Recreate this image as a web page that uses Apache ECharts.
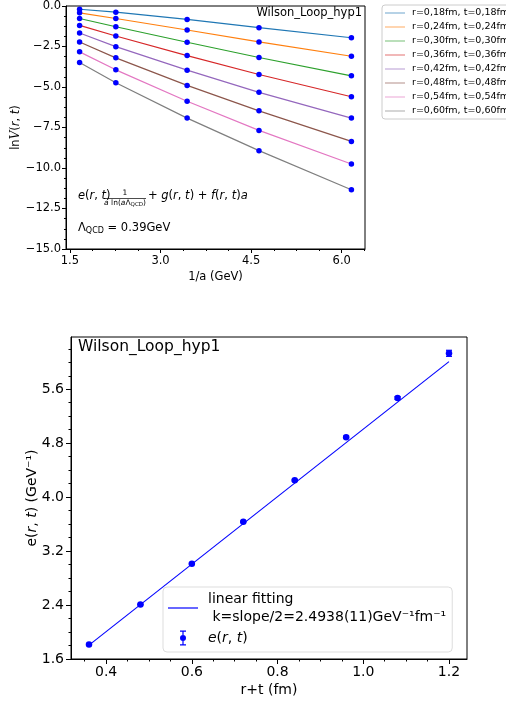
<!DOCTYPE html>
<html>
<head>
<meta charset="utf-8">
<script src="https://cdn.jsdelivr.net/npm/echarts@6/dist/echarts.min.js"></script>
<style>
html,body{margin:0;padding:0;background:#fff;}
#chart{width:506px;height:703px;}
</style>
</head>
<body>
<div id="chart"></div>
<script>
// ---------- data: top panel ----------
const invA = [1.66, 2.26, 3.44, 4.63, 6.16];
const rtNames = ['r=0,18fm, t=0,18fm','r=0,24fm, t=0,24fm','r=0,30fm, t=0,30fm','r=0,36fm, t=0,36fm',
                 'r=0,42fm, t=0,42fm','r=0,48fm, t=0,48fm','r=0,54fm, t=0,54fm','r=0,60fm, t=0,60fm'];
const lnV_018 = [-0.20, -0.38, -0.83, -1.34, -1.96];
const lnV_024 = [-0.42, -0.77, -1.48, -2.22, -3.10];
const lnV_030 = [-0.77, -1.28, -2.24, -3.18, -4.31];
const lnV_036 = [-1.20, -1.85, -3.06, -4.23, -5.60];
const lnV_042 = [-1.67, -2.51, -3.96, -5.33, -6.92];
const lnV_048 = [-2.22, -3.20, -4.90, -6.47, -8.36];
const lnV_054 = [-2.83, -3.94, -5.88, -7.68, -9.75];
const lnV_060 = [-3.49, -4.74, -6.92, -8.93, -11.34];
const topXTicks = [1.5, 3.0, 4.5, 6.0];
const topYTicks = [0, -2.5, -5, -7.5, -10, -12.5, -15];

// ---------- data: bottom panel ----------
const rPlusT = [0.36, 0.48, 0.60, 0.72, 0.84, 0.96, 1.08, 1.20];
const eVals  = [1.816, 2.408, 3.013, 3.634, 4.25, 4.89, 5.47, 6.133];
const eErr   = [0.006, 0.006, 0.008, 0.010, 0.012, 0.015, 0.020, 0.045];
const fitX   = [0.36, 1.20];
const fitY   = [1.805, 6.01];
const botXTicks = [0.4, 0.6, 0.8, 1.0, 1.2];
const botYTicks = [1.6, 2.4, 3.2, 4.0, 4.8, 5.6];

const lnV = [lnV_018, lnV_024, lnV_030, lnV_036, lnV_042, lnV_048, lnV_054, lnV_060];
const tab10 = ['#1f77b4','#ff7f0e','#2ca02c','#d62728','#9467bd','#8c564b','#e377c2','#7f7f7f'];
const FF = 'DejaVu Sans';

function minorTicks(major, ndiv, lo, hi) {
  const sorted = major.slice().sort((a, b) => a - b);
  const s = (sorted[1] - sorted[0]) / ndiv;
  const out = [];
  for (let k = -ndiv; k <= sorted.length * ndiv; k++) {
    const v = +(sorted[0] + k * s).toFixed(6);
    if (v < lo - 1e-9 || v > hi + 1e-9) continue;
    if (sorted.some(m => Math.abs(m - v) < 1e-6)) continue;
    out.push(v);
  }
  return out;
}

const T = {xmin:1.435, xmax:6.385, ymin:-15, ymax:0};
const B = {xmin:0.318, xmax:1.242, ymin:1.6, ymax:6.375};
const fmtMinus = v => v.toFixed(1).replace('-', '\u2212');

function majorAxis(o) {
  return Object.assign({
    type: 'value', scale: true,
    axisLine: {show: true, onZero: false, lineStyle: {color: '#000', width: 1}},
    splitLine: {show: false}, nameMoveOverlap: false,
    axisTick: {show: true, customValues: o.ticks, length: o.tlen, lineStyle: {color: '#000', width: 1}},
    axisLabel: {customValues: o.ticks, formatter: o.fmt, fontSize: o.fs, fontFamily: FF, color: '#000', margin: o.margin}
  }, o.extra);
}
function minorAxis(o) {
  return Object.assign({
    type: 'value', scale: true,
    axisLine: {show: false, onZero: false}, splitLine: {show: false},
    axisTick: {show: true, customValues: o.ticks, length: o.tlen, lineStyle: {color: '#000', width: 1}},
    axisLabel: {show: false}
  }, o.extra);
}

const chart = echarts.init(document.getElementById('chart'), null, {renderer: 'canvas'});

const series = [];
lnV.forEach((arr, i) => { series.push({name: rtNames[i], type: 'line', xAxisIndex: 0, yAxisIndex: 0,
  data: invA.map((x, j) => [x, arr[j]]), symbol: 'none', lineStyle: {color: tab10[i], width: 1.2}, itemStyle: {color: tab10[i]}, z: 2}); });
lnV.forEach((arr, i) => { series.push({name: 'pts' + i, type: 'scatter', xAxisIndex: 0, yAxisIndex: 0,
  data: invA.map((x, j) => [x, arr[j]]), symbol: 'circle', symbolSize: 5.5, itemStyle: {color: '#0000ff', opacity: 1}, z: 3}); });
series.push({name: 'linear fitting', type: 'line', xAxisIndex: 2, yAxisIndex: 2, data: fitX.map((x, j) => [x, fitY[j]]),
  symbol: 'none', lineStyle: {color: '#0000ff', width: 1.1}, itemStyle: {color: '#0000ff'}, z: 2});
series.push({name: 'e(r, t)', type: 'scatter', xAxisIndex: 2, yAxisIndex: 2, data: rPlusT.map((x, j) => [x, eVals[j]]),
  symbol: 'circle', symbolSize: 6.5, itemStyle: {color: '#0000ff', opacity: 1}, z: 3});
series.push({name: 'errbars', type: 'custom', xAxisIndex: 2, yAxisIndex: 2,
  data: rPlusT.map((x, j) => [x, eVals[j] - eErr[j], eVals[j] + eErr[j]]),
  renderItem: function (params, api) {
    const lo = api.coord([api.value(0), api.value(1)]), hi = api.coord([api.value(0), api.value(2)]);
    const w = 3, st = {stroke: '#0000ff', lineWidth: 1.2};
    return {type: 'group', children: [
      {type: 'line', shape: {x1: lo[0], y1: lo[1], x2: hi[0], y2: hi[1]}, style: st},
      {type: 'line', shape: {x1: lo[0]-w, y1: lo[1], x2: lo[0]+w, y2: lo[1]}, style: st},
      {type: 'line', shape: {x1: hi[0]-w, y1: hi[1], x2: hi[0]+w, y2: hi[1]}, style: st}]};
  }, z: 3});

const errIcon = 'path://M0,0H6V1.2H3.6V13.8H6V15H0V13.8H2.4V1.2H0Z M6,7.5A3,3,0,1,1,0,7.5A3,3,0,1,1,6,7.5Z';
const lineIcon20 = 'path://M0,0H20V1.3H0Z';
const lineIcon30 = 'path://M0,0H30V1.2H0Z';

const option = {
  animation: false, backgroundColor: '#fff', textStyle: {fontFamily: FF},
  title: [
    {text: 'Wilson_Loop_hyp1', right: 144, top: 7, padding: 0, textStyle: {fontSize: 11.5, fontWeight: 'normal', fontFamily: FF, color: '#000'}},
    {text: 'Wilson_Loop_hyp1', left: 78, top: 339, padding: 0, textStyle: {fontSize: 15.5, fontWeight: 'normal', fontFamily: FF, color: '#000'}}
  ],
  grid: [
    {left: 66, top: 6, width: 299, height: 243, show: true, borderColor: '#000', borderWidth: 1, backgroundColor: 'transparent', containLabel: false, outerBoundsMode: 'none'},
    {left: 71, top: 337, width: 396, height: 322, show: true, borderColor: '#000', borderWidth: 1, backgroundColor: 'transparent', containLabel: false, outerBoundsMode: 'none'}
  ],
  xAxis: [
    majorAxis({ticks: topXTicks, tlen: 4, fmt: v => v.toFixed(1), fs: 11.5, margin: 6,
      extra: {gridIndex: 0, position: 'bottom', min: T.xmin, max: T.xmax, name: '1/a (GeV)', nameLocation: 'middle', nameGap: 22,
        nameTextStyle: {fontSize: 11.5, fontFamily: FF, color: '#000'}}}),
    minorAxis({ticks: minorTicks(topXTicks, 4, T.xmin, T.xmax), tlen: 2, extra: {gridIndex: 0, position: 'bottom', min: T.xmin, max: T.xmax}}),
    majorAxis({ticks: botXTicks, tlen: 5, fmt: v => v.toFixed(1), fs: 14, margin: 6,
      extra: {gridIndex: 1, position: 'bottom', min: B.xmin, max: B.xmax, name: 'r+t (fm)', nameLocation: 'middle', nameGap: 24,
        nameTextStyle: {fontSize: 14, fontFamily: FF, color: '#000'}}}),
    minorAxis({ticks: minorTicks(botXTicks, 4, B.xmin, B.xmax), tlen: 2.5, extra: {gridIndex: 1, position: 'bottom', min: B.xmin, max: B.xmax}})
  ],
  yAxis: [
    majorAxis({ticks: topYTicks, tlen: 4, fmt: fmtMinus, fs: 11.5, margin: 5,
      extra: {gridIndex: 0, position: 'left', min: T.ymin, max: T.ymax, name: '{u|ln}{c|V}{u|(}{i|r}{u|, }{i|t}{u|)}',
        nameLocation: 'middle', nameGap: 44, nameRotate: 90,
        nameTextStyle: {fontSize: 11.5, fontFamily: FF, color: '#000', rich: {
          u: {fontSize: 11.5, fontFamily: FF, color: '#000'},
          c: {fontSize: 12, fontFamily: 'DejaVu Serif', fontStyle: 'italic', color: '#000'},
          i: {fontSize: 11.5, fontFamily: FF, fontStyle: 'italic', color: '#000'}}}}}),
    minorAxis({ticks: minorTicks(topYTicks, 4, T.ymin, T.ymax), tlen: 2, extra: {gridIndex: 0, position: 'left', min: T.ymin, max: T.ymax}}),
    majorAxis({ticks: botYTicks, tlen: 5, fmt: v => v.toFixed(1), fs: 14, margin: 7,
      extra: {gridIndex: 1, position: 'left', min: B.ymin, max: B.ymax, name: '{u|e(}{i|r}{u|, }{i|t}{u|) (GeV⁻¹)}',
        nameLocation: 'middle', nameGap: 32, nameRotate: 90,
        nameTextStyle: {fontSize: 14, fontFamily: FF, color: '#000', rich: {
          u: {fontSize: 14, fontFamily: FF, color: '#000'},
          i: {fontSize: 14, fontFamily: FF, fontStyle: 'italic', color: '#000'}}}}}),
    minorAxis({ticks: minorTicks(botYTicks, 4, B.ymin, B.ymax), tlen: 2.5, extra: {gridIndex: 1, position: 'left', min: B.ymin, max: B.ymax}})
  ],
  legend: [
    {orient: 'vertical', left: 382, top: 5, itemWidth: 20, itemHeight: 10, itemGap: 4,
      padding: [3, 6, 3, 3], borderColor: '#cccccc', borderWidth: 1, borderRadius: 3,
      backgroundColor: 'rgba(255,255,255,0.8)', symbolKeepAspect: true,
      textStyle: {fontSize: 9.5, lineHeight: 10, fontFamily: FF, color: '#000', padding: [0, 0, 0, 2]},
      data: rtNames.map(n => ({name: n, icon: lineIcon20, itemStyle: {opacity: 0.5}})), selectedMode: false},
    {orient: 'vertical', left: 163, top: 587, itemWidth: 30, itemHeight: 15, itemGap: 3,
      padding: [3, 6, 5, 5], borderColor: '#dddddd', borderWidth: 1, borderRadius: 4,
      backgroundColor: 'rgba(255,255,255,0.8)', symbolKeepAspect: true,
      textStyle: {fontSize: 14, lineHeight: 18, fontFamily: FF, color: '#000', padding: [0, 0, 0, 5],
        rich: {t: {fontSize: 14, lineHeight: 18, fontFamily: FF, color: '#000'},
               i: {fontSize: 14, lineHeight: 18, fontFamily: FF, fontStyle: 'italic', color: '#000'}}},
      formatter: function (name) {
        if (name === 'linear fitting') return '{t|linear fitting}\n{t| k=slope/2=2.4938(11)GeV⁻¹fm⁻¹}';
        return '{i|e}{t|(}{i|r}{t|, }{i|t}{t|)}';
      },
      data: [{name: 'linear fitting', icon: lineIcon30}, {name: 'e(r, t)', icon: errIcon, itemStyle: {opacity: 1}}], selectedMode: false}
  ],
  graphic: [
    {type: 'text', left: 78, top: 190, style: {text: '{i|e}{u|(}{i|r}{u|, }{i|t}{u|)}', fontFamily: FF, fontSize: 11.5,
      rich: {i: {fontSize: 11.5, fontStyle: 'italic', fontFamily: FF, fill: '#000'}, u: {fontSize: 11.5, fontFamily: FF, fill: '#000'}}}},
    {type: 'text', x: 125, y: 193.5, style: {text: '1', fontSize: 7.5, fontFamily: FF, fill: '#000', align: 'center', verticalAlign: 'middle'}},
    {type: 'line', shape: {x1: 104, y1: 198.5, x2: 146, y2: 198.5}, style: {stroke: '#000', lineWidth: 0.7}},
    {type: 'text', x: 125, y: 203.5, style: {text: '{i|a}{u| ln(}{i|a}{u|Λ}{s|QCD}{u|)}', align: 'center', verticalAlign: 'middle',
      rich: {i: {fontSize: 7.5, fontStyle: 'italic', fontFamily: FF, fill: '#000', lineHeight: 9},
             u: {fontSize: 7.5, fontFamily: FF, fill: '#000', lineHeight: 9},
             s: {fontSize: 5.5, fontFamily: FF, fill: '#000', lineHeight: 6, verticalAlign: 'bottom'}}}},
    {type: 'text', left: 148, top: 190, style: {text: '{u|+ }{i|g}{u|(}{i|r}{u|, }{i|t}{u|) + }{i|f}{u|(}{i|r}{u|, }{i|t}{u|)}{i|a}',
      rich: {i: {fontSize: 11.5, fontStyle: 'italic', fontFamily: FF, fill: '#000'}, u: {fontSize: 11.5, fontFamily: FF, fill: '#000'}}}},
    {type: 'text', left: 78, top: 222, style: {text: '{u|Λ}{s|QCD}{u| = 0.39GeV}',
      rich: {u: {fontSize: 11.5, fontFamily: FF, fill: '#000', lineHeight: 14},
             s: {fontSize: 8, fontFamily: FF, fill: '#000', lineHeight: 9, verticalAlign: 'bottom'}}}}
  ],
  series: series
};
chart.setOption(option);
</script>
</body>
</html>
